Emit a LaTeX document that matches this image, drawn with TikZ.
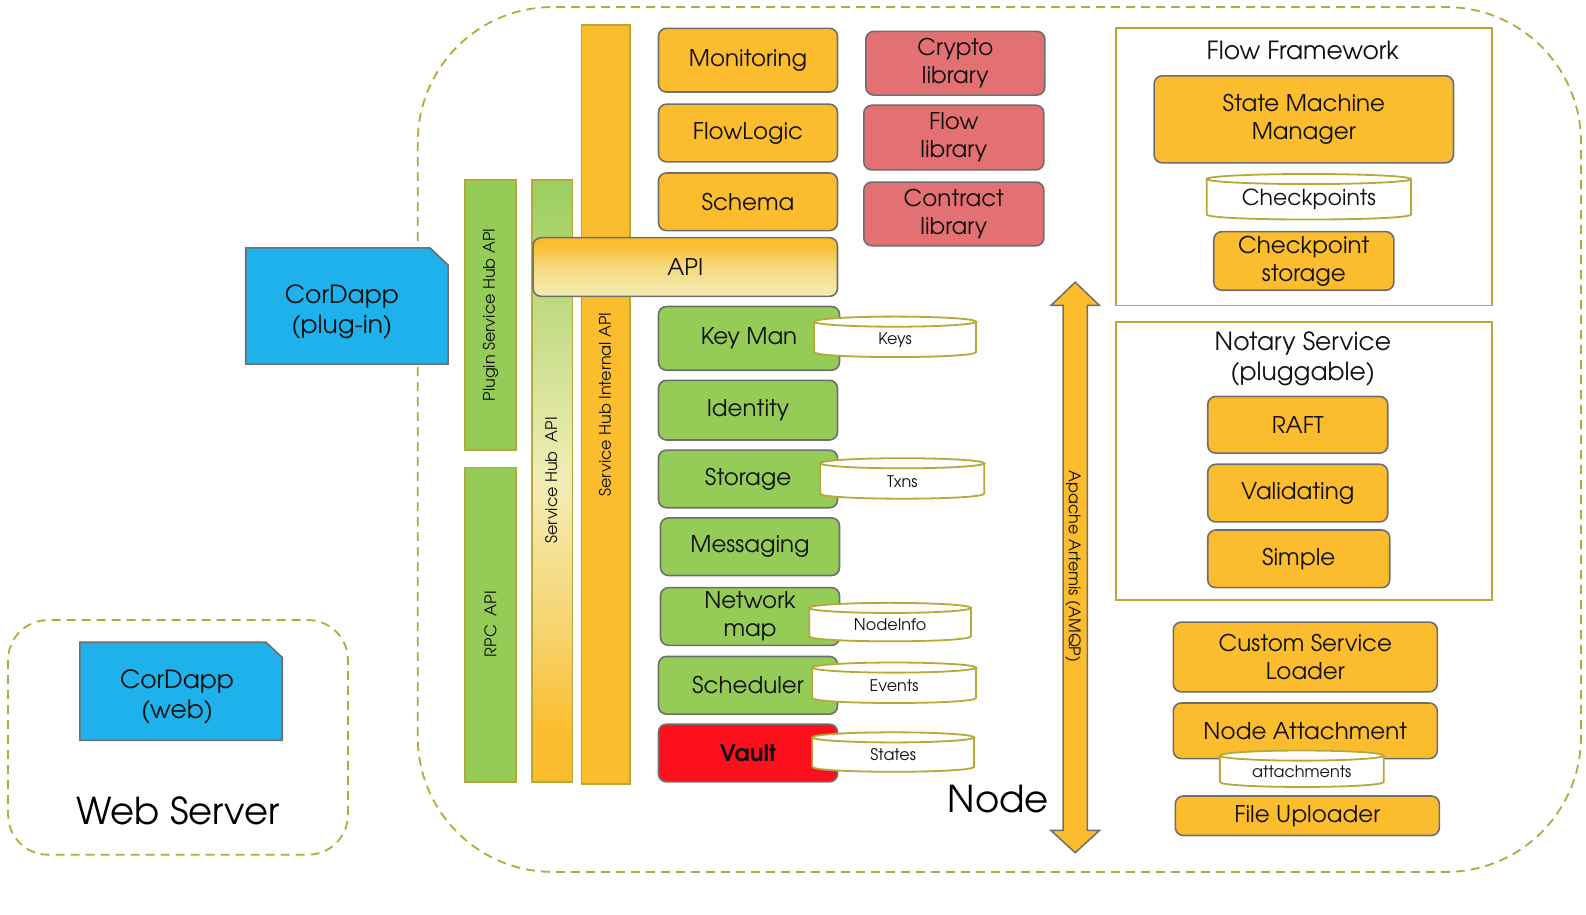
\documentclass[tikz,border=0pt]{standalone}
\usepackage{fontspec}
\setmainfont{TeX Gyre Adventor}
\usetikzlibrary{calc}
\definecolor{orng}{HTML}{FBBC2D}
\definecolor{grn}{HTML}{95CB57}
\definecolor{olv}{HTML}{B5A93A}
\definecolor{bgray}{HTML}{6E6E6E}
\definecolor{libred}{HTML}{E37073}
\definecolor{vred}{HTML}{FE0F1E}
\definecolor{cblue}{HTML}{1FB1EB}
\definecolor{pale}{HTML}{F2EDB5}
\definecolor{txt}{HTML}{111111}
\pgfdeclareverticalshading{shubshade}{100bp}{color(0bp)=(orng); color(29bp)=(orng); color(37bp)=(orng!55!pale); color(50bp)=(pale); color(62bp)=(grn!45!pale); color(75bp)=(grn!95!white); color(100bp)=(grn)}
\pgfdeclareverticalshading{apishade}{100bp}{color(0bp)=(pale); color(25bp)=(pale); color(50bp)=(orng!40!pale); color(70bp)=(orng); color(100bp)=(orng)}
% box by corners: [style]{name}{x1}{y1}{x2}{y2}{text}
\newcommand\bx[7][]{\node[#1, minimum width={(#5-#3)*1.0115}, minimum height={(#6-#4)*1.0115}] (#2) at ({(#3+#5)/2},{(#4+#6)/2}) {#7};}
\newcommand\dbcyl[7]{%
 \fill[white] (#2,#3+5) -- (#2,#5-5) .. controls (#2,#5+1.7) and (#4,#5+1.7) .. (#4,#5-5) -- (#4,#3+5) -- cycle;
 \draw[cyl] (#2,#3+5) -- (#2,#5-5) .. controls (#2,#5+1.7) and (#4,#5+1.7) .. (#4,#5-5) -- (#4,#3+5);
 \draw[cyl,fill=white] ({(#2+#4)/2},#3+5) ellipse [x radius={(#4-#2)/2}, y radius=5];
 \node[font=#6, inner sep=0pt, text=txt] (#1) at ({(#2+#4)/2},{(#3+#5)/2+3}) {#7};
}
\begin{document}
\begin{tikzpicture}[x=1.0115pt,y=-1.0115pt,
  box/.style={rounded corners=8pt, draw=bgray, line width=1.6pt, inner sep=0pt, align=center, text=txt, font=\fontsize{23}{28}\selectfont},
  obox/.style={box, fill=orng},
  gbox/.style={box, fill=grn},
  rbox/.style={box, fill=libred},
  bar/.style={draw=olv, line width=1.6pt, inner sep=0pt},
  bartext/.style={font=\fontsize{16}{18}\selectfont, text=txt, inner sep=0pt},
  cyl/.style={draw=olv, line width=1.8pt},
  dashline/.style={draw=olv, line width=1.8pt, dash pattern=on 9pt off 6pt},
  frame/.style={draw=olv, line width=1.8pt, inner sep=0pt},
  title/.style={font=\fontsize{25}{30}\selectfont, text=txt, align=center, inner sep=0pt},
  doc/.style={draw=bgray, line width=1.6pt, fill=cblue}
]
\useasboundingbox (0,0) rectangle (1568,904);

% outer dashed regions
\draw[dashline, rounded corners=135pt] (413,7) rectangle (1563,862);
\draw[dashline, rounded corners=40pt] (8,613) rectangle (344,845);

% vertical bars
\bx[bar, fill=grn]{plug}{460}{178}{510}{445}{}
\bx[bar, fill=grn]{rpc}{460}{462}{510}{773}{}
\bx[bar, shading=shubshade]{shub}{526}{178}{566}{773}{}
\bx[bar, fill=orng]{internal}{575}{25}{623}{775}{}
\node[bartext, rotate=90] (plugt) at (plug.center) {Plugin Service Hub API};
\node[bartext, rotate=90] (rpct) at (485,617) {RPC\ \ API};
\node[bartext, rotate=90] (shubt) at (545,475) {Service Hub\ \ API};
\node[bartext, rotate=90] (intt) at (598,400) {Service Hub Internal API};

% API box
\bx[box, shading=apishade]{api}{527}{235}{828}{293}{API}

% middle column
\bx[obox]{mon}{651}{28}{828}{91}{Monitoring}
\bx[obox]{flowlogic}{651}{103}{828}{160}{FlowLogic}
\bx[obox]{schema}{651}{171}{828}{228}{Schema}
\bx[gbox]{keyman}{651}{303}{830}{366}{Key Man}
\bx[gbox]{identity}{651}{376}{828}{435}{Identity}
\bx[gbox]{storage}{651}{445}{828}{502}{Storage}
\bx[gbox]{messaging}{653}{512}{830}{569}{Messaging}
\bx[gbox]{netmap}{653}{581}{830}{638}{Network\\map}
\bx[gbox]{sched}{651}{649}{828}{706}{Scheduler}
\bx[box, fill=vred, font=\fontsize{23}{28}\selectfont\bfseries]{vault}{651}{716}{828}{773}{Vault}

\dbcyl{keys}{805}{313}{965}{353}{\fontsize{16}{18}\selectfont}{Keys}
\dbcyl{txns}{811}{453}{973}{493}{\fontsize{16}{18}\selectfont}{Txns}
\dbcyl{nodeinfo}{800}{596}{960}{634}{\fontsize{16}{18}\selectfont}{NodeInfo}
\dbcyl{events}{803}{655}{965}{695}{\fontsize{16}{18}\selectfont}{Events}
\dbcyl{states}{803}{724}{963}{763}{\fontsize{16}{18}\selectfont}{States}

% libraries
\bx[rbox]{crypto}{856}{31}{1033}{94}{Crypto\\library}
\bx[rbox]{flowlib}{854}{104}{1032}{168}{Flow\\library}
\bx[rbox]{contract}{854}{180}{1032}{243}{Contract\\library}

% Artemis double arrow
\draw[fill=orng, draw=bgray, line width=1.5pt]
  (1063,279) -- (1087,302) -- (1075,302) -- (1075,821) -- (1087,821) -- (1063,843)
  -- (1039,821) -- (1051,821) -- (1051,302) -- (1039,302) -- cycle;
\node[bartext, rotate=-90] (artemis) at (1061,560) {Apache Artemis (AMQP)};

\node[font=\fontsize{37}{40}\selectfont, text=black, inner sep=0pt] (nodelbl) at (987,790) {Node};

% Flow framework
\bx[frame]{ff}{1103}{28}{1475}{302}{}
\node[title] (fft) at (1288,50) {Flow Framework};
\bx[obox]{smm}{1141}{75}{1437}{161}{State Machine\\Manager}
\dbcyl{ckpts}{1193}{172}{1395}{217}{\fontsize{22}{24}\selectfont}{Checkpoints}
\bx[obox]{ckstore}{1200}{229}{1378}{287}{Checkpoint\\storage}

% Notary
\bx[frame]{ns}{1103}{318}{1475}{593}{}
\node[title] (nst) at (1288,355) {Notary Service\\(pluggable)};
\bx[obox]{raft}{1194}{392}{1372}{448}{RAFT}
\bx[obox]{valid}{1194}{459}{1372}{516}{Validating}
\bx[obox]{simple}{1194}{524}{1374}{581}{Simple}

% other services
\bx[obox]{csl}{1160}{615}{1421}{684}{Custom Service\\Loader}
\bx[obox]{natt}{1160}{695}{1421}{750}{Node Attachment}
\dbcyl{attach}{1206}{742}{1368}{778}{\fontsize{16}{18}\selectfont}{attachments}
\bx[obox]{fup}{1162}{787}{1423}{826}{File Uploader}

% CorDapps
\draw[doc] (243,245) -- (425,245) -- (443,262) -- (443,360) -- (243,360) -- cycle;
\node[font=\fontsize{25}{30}\selectfont, align=center, text=txt, inner sep=0pt] (cdplug) at (338,308) {CorDapp\\(plug-in)};
\draw[doc] (79,635) -- (263,635) -- (279,650) -- (279,732) -- (79,732) -- cycle;
\node[font=\fontsize{25}{30}\selectfont, align=center, text=txt, inner sep=0pt] (cdweb) at (175,689) {CorDapp\\(web)};

\node[font=\fontsize{37}{40}\selectfont, text=black, inner sep=0pt] (wslbl) at (176,802) {Web Server};
\end{tikzpicture}
\end{document}
